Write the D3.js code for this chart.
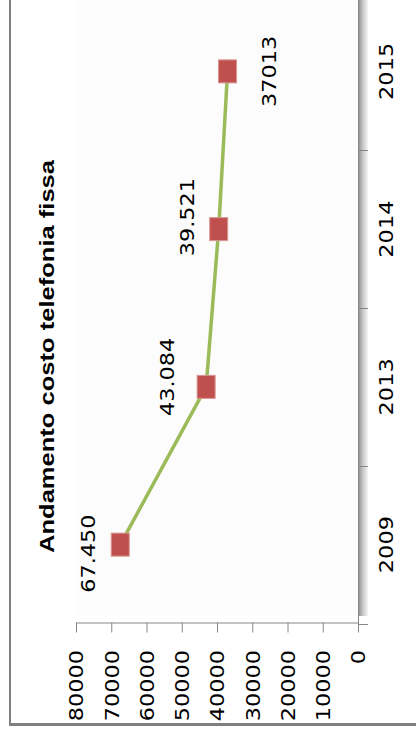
<!DOCTYPE html>
<html>
<head>
<meta charset="utf-8">
<script src="https://cdn.jsdelivr.net/npm/d3@7"></script>
<style>
  html, body { margin: 0; padding: 0; background: #fff; }
  svg { display: block; }
</style>
</head>
<body>
<script>
// ---- data ----
const categories = ["2009", "2013", "2014", "2015"];
const values = [67450, 43084, 39521, 37013];
const valueLabels = ["67.450", "43.084", "39.521", "37013"];
const valueTicks = [0, 10000, 20000, 30000, 40000, 50000, 60000, 70000, 80000];
const titleText = "Andamento costo telefonia fissa";
// label placement relative to the marker (screen px)
const labelOffsets = [[-32, 9], [-39, -10], [-32, -12], [42, 0]];

const W = 416, H = 738;
const svg = d3.select("body").append("svg").attr("width", W).attr("height", H);

const defs = svg.append("defs");
const grad = defs.append("linearGradient").attr("id", "shadow").attr("x1", "0").attr("x2", "1").attr("y1", "0").attr("y2", "0");
grad.append("stop").attr("offset", "0").attr("stop-color", "#8c8c8c");
grad.append("stop").attr("offset", "0.5").attr("stop-color", "#c8c8c8");
grad.append("stop").attr("offset", "1").attr("stop-color", "#f6f6f6");

// scales (chart is rotated: values run right-to-left along the bottom, categories bottom-to-top)
const x = d3.scaleLinear().domain([0, 80000]).range([358, 76]);
const y = d3.scaleBand().domain(categories).range([623.5, -7.5]).paddingInner(0).paddingOuter(0);
const yc = c => y(c) + y.bandwidth() / 2;

const axisColor = "#868686";
const FONT = "'DejaVu Sans', Verdana, sans-serif";
const STRETCH = 1.18;

// plot area
svg.append("rect").attr("x", 76).attr("y", 0).attr("width", 282).attr("height", 616).attr("fill", "#fcfcfc");
// shadow at right edge of plot area
svg.append("rect").attr("x", 358).attr("y", -10).attr("width", 10).attr("height", 626).attr("fill", "url(#shadow)");

// category axis line
svg.append("line").attr("x1", 358.5).attr("x2", 358.5).attr("y1", -10).attr("y2", 632)
  .attr("stroke", axisColor).attr("stroke-width", 1);
// category ticks at band boundaries
const bounds = categories.map(c => y(c) + y.bandwidth()).concat([y(categories[categories.length - 1])]);
svg.selectAll("line.ctick").data(bounds).join("line").attr("class", "ctick")
  .attr("x1", 358).attr("x2", 368).attr("y1", d => Math.round(d) + 0.5).attr("y2", d => Math.round(d) + 0.5)
  .attr("stroke", axisColor).attr("stroke-width", 1);

// value axis
const vAxis = svg.append("g").attr("transform", "translate(0,622.5)")
  .call(d3.axisBottom(x).tickValues(valueTicks).tickSize(10).tickSizeOuter(0).tickFormat(d3.format("d")));
vAxis.select(".domain").attr("stroke", axisColor);
vAxis.selectAll(".tick line").attr("stroke", axisColor);
vAxis.selectAll(".tick text")
  .attr("y", 0).attr("x", 0).attr("dy", null)
  .attr("transform", "translate(0,27.5) rotate(-90) scale(" + STRETCH + ",1)")
  .attr("text-anchor", "end").attr("dy", "0.36em")
  .attr("font-family", FONT).attr("font-size", 19).attr("fill", "#000");

// category labels
svg.selectAll("text.cat").data(categories).join("text").attr("class", "cat")
  .attr("transform", d => `translate(386.5,${yc(d)}) rotate(-90) scale(${STRETCH},1)`)
  .attr("text-anchor", "middle").attr("dy", "0.36em")
  .attr("font-family", FONT).attr("font-size", 19).attr("fill", "#000")
  .text(d => d);

// line
const pts = categories.map((c, i) => [x(values[i]), yc(c)]);
svg.append("path").attr("d", d3.line()(pts))
  .attr("fill", "none").attr("stroke", "#9BBB59").attr("stroke-width", 3.5)
  .attr("stroke-linejoin", "round").attr("stroke-linecap", "round");

// markers
svg.selectAll("rect.mk").data(pts).join("rect").attr("class", "mk")
  .attr("x", d => d[0] - 9).attr("y", d => d[1] - 11.5).attr("width", 18).attr("height", 23)
  .attr("fill", "#C0504D").attr("stroke", "#D99694").attr("stroke-width", 1);

// data labels
svg.selectAll("text.dl").data(pts).join("text").attr("class", "dl")
  .attr("transform", (d, i) => `translate(${d[0] + labelOffsets[i][0]},${d[1] + labelOffsets[i][1]}) rotate(-90) scale(${STRETCH},1)`)
  .attr("text-anchor", "middle").attr("dy", "0.36em")
  .attr("font-family", FONT).attr("font-size", 19).attr("fill", "#000")
  .text((d, i) => valueLabels[i]);

// title
svg.append("text")
  .attr("transform", "translate(46,356.5) rotate(-90)")
  .attr("text-anchor", "middle").attr("dy", "0.36em")
  .attr("font-family", "'Liberation Sans', Arial, sans-serif").attr("font-weight", "bold").attr("font-size", 21)
  .attr("textLength", 393).attr("lengthAdjust", "spacingAndGlyphs")
  .attr("fill", "#000")
  .text(titleText);

// outer chart border (left and bottom visible)
svg.append("line").attr("x1", 10).attr("x2", 10).attr("y1", 0).attr("y2", 726)
  .attr("stroke", "#7f7f7f").attr("stroke-width", 2);
svg.append("line").attr("x1", 9).attr("x2", 416).attr("y1", 724.5).attr("y2", 724.5)
  .attr("stroke", "#7f7f7f").attr("stroke-width", 3);
</script>
</body>
</html>
